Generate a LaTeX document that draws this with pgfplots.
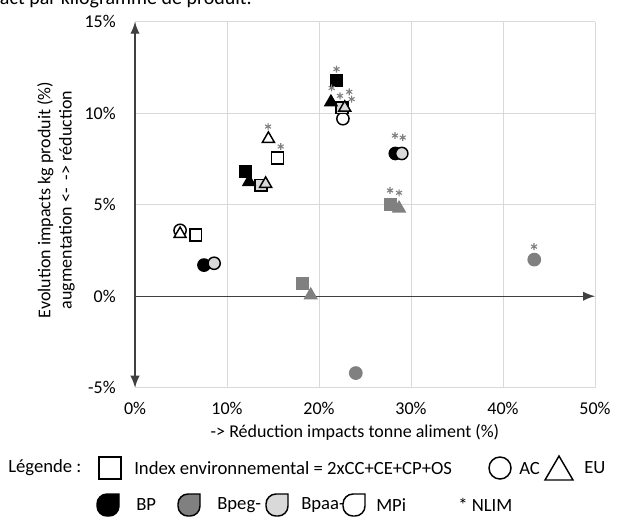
\documentclass[border=0pt]{standalone}
\usepackage{pgfplots}
\pgfplotsset{compat=1.18}
\usetikzlibrary{arrows.meta}
\usepackage{fontspec}
\setmainfont{Carlito}
\definecolor{bpeg}{HTML}{808080}
\definecolor{bpaa}{HTML}{D9D9D9}
\definecolor{gridc}{HTML}{D9D9D9}
\definecolor{axc}{HTML}{404040}
\newcommand{\leaf}[3]{% x left, y bottom (pixel, y down), fill
  \begin{scope}[shift={(#1*0.75pt,-#2*0.75pt)},x=0.75pt,y=0.75pt]
    \filldraw[fill=#3,draw=black,line width=1.1pt] (22,22) -- (10,22) arc[start angle=90,end angle=180,radius=10] -- (0,10) arc[start angle=180,end angle=270,radius=10] -- (12,0) arc[start angle=270,end angle=360,radius=10] -- cycle;
  \end{scope}}
\begin{document}
\begin{tikzpicture}
\useasboundingbox (0,0) rectangle (470.25pt,-388.5pt);
\begin{axis}[
  at={(101.25pt,-290.775pt)}, anchor=south west,
  scale only axis, width=345pt, height=274.5pt,
  xmin=0,xmax=50,ymin=-5,ymax=15,
  xtick={0,10,20,30,40,50}, ytick={-5,0,5,10,15},
  xticklabel={\pgfmathprintnumber[assume math mode=true]{\tick}\%},
  yticklabel={\pgfmathprintnumber[assume math mode=true]{\tick}\%},
  ticklabel style={font=\fontsize{13.5}{16}\selectfont},
  xticklabel style={yshift=-7pt},
  yticklabel style={xshift=-11pt},
  xtick style={draw=none}, ytick style={draw=none},
  xmajorgrids, ymajorgrids, grid style={gridc, line width=0.75pt},
  axis line style={draw=none},
  clip=false,
]
% axis lines
\draw[axc,line width=1pt,-{Latex[length=9pt,width=7pt]}] (axis cs:0,0) -- (axis cs:50,0);
\draw[axc,line width=1pt,{Latex[length=9pt,width=7pt]}-{Latex[length=9pt,width=7pt]}] (axis cs:0,-5) -- (axis cs:0,15);
% circles (AC)
\addplot[only marks, mark=*, mark size=4.6pt, mark options={fill=black,draw=black,line width=1.1pt}] coordinates {(7.5,1.7) (28.3,7.8)};
\addplot[only marks, mark=*, mark size=4.6pt, mark options={fill=bpeg,draw=bpeg,line width=1.1pt}] coordinates {(43.4,2.0) (24.0,-4.2)};
\addplot[only marks, mark=*, mark size=4.6pt, mark options={fill=bpaa,draw=black,line width=1.1pt}] coordinates {(8.6,1.8) (29.0,7.8)};
\addplot[only marks, mark=*, mark size=4.6pt, mark options={fill=white,draw=black,line width=1.1pt}] coordinates {(4.9,3.6) (22.6,9.7)};
% squares (Index)
\addplot[only marks, mark=square*, mark size=4.4pt, mark options={fill=black,draw=black,line width=1.1pt}] coordinates {(21.9,11.8) (12.0,6.8)};
\addplot[only marks, mark=square*, mark size=4.4pt, mark options={fill=bpeg,draw=bpeg,line width=1.1pt}] coordinates {(27.8,5.0) (18.2,0.7)};
\addplot[only marks, mark=square*, mark size=4.4pt, mark options={fill=bpaa,draw=black,line width=1.1pt}] coordinates {(13.7,6.07) (22.5,10.3)};
\addplot[only marks, mark=square*, mark size=4.4pt, mark options={fill=white,draw=black,line width=1.1pt}] coordinates {(6.6,3.35) (15.5,7.55)};
% triangles (EU)
\addplot[only marks, mark=triangle*, mark size=5.2pt, mark options={fill=black,draw=black,line width=1.1pt}] coordinates {(21.3,10.6) (12.4,6.25)};
\addplot[only marks, mark=triangle*, mark size=5.2pt, mark options={fill=bpeg,draw=bpeg,line width=1.1pt}] coordinates {(28.7,4.8) (19.1,0.05)};
\addplot[only marks, mark=triangle*, mark size=5.2pt, mark options={fill=bpaa,draw=black,line width=1.1pt}] coordinates {(14.2,6.14) (22.8,10.3)};
\addplot[only marks, mark=triangle*, mark size=5.2pt, mark options={fill=white,draw=black,line width=1.1pt}] coordinates {(4.9,3.4) (14.5,8.6)};
% NLIM stars
\addplot[only marks, mark=asterisk, mark size=2.6pt, mark options={draw=bpeg,line width=0.8pt}] coordinates {
(14.46,9.27) (15.84,8.18) (21.9,12.41) (21.38,11.38) (22.28,10.95) (23.29,11.17) (23.55,10.77)
(28.26,8.78) (29.10,8.67) (27.72,5.78) (28.70,5.65) (43.37,2.71)};
\end{axis}
\begin{scope}[x=0.75pt,y=-0.75pt]
\node[anchor=base east,font=\fontsize{15}{18}\selectfont,inner sep=0] at (252,4.5) {Évolution de l'impact par kilogramme de produit.};
\node[font=\fontsize{13.5}{16}\selectfont] at (355,432) {-> Réduction impacts tonne aliment (\%)};
\node[rotate=90,font=\fontsize{13.5}{16}\selectfont,align=center] at (56,200) {Evolution impacts kg produit (\%)\\augmentation <-\ \ -> réduction};
\begin{scope}[font=\fontsize{14}{16}\selectfont]
\node[anchor=west,inner sep=0] at (8,468) {Légende :};
\draw[line width=1.1pt] (99,457) rectangle (121,479);
\node[anchor=west,inner sep=0] at (134,468) {Index environnemental = 2xCC+CE+CP+OS};
\draw[line width=1.1pt] (500,468) circle[radius=11];
\node[anchor=west,inner sep=0] at (519,468) {AC};
\draw[line width=1.1pt] (545,480) -- (573,480) -- (559,456) -- cycle;
\node[anchor=west,inner sep=0] at (584,468) {EU};
\leaf{97}{516}{black}
\node[anchor=west,inner sep=0] at (136,505) {BP};
\leaf{178}{516}{bpeg}
\node[anchor=west,inner sep=0] at (217,505) {Bpeg-};
\leaf{266}{516}{bpaa}
\node[anchor=west,inner sep=0] at (301,505) {Bpaa-};
\leaf{343}{516}{white}
\node[anchor=west,inner sep=0] at (376,505) {MPi};
\node[anchor=west,inner sep=0] at (458,505) {* NLIM};
\end{scope}
\end{scope}
\end{tikzpicture}
\end{document}
